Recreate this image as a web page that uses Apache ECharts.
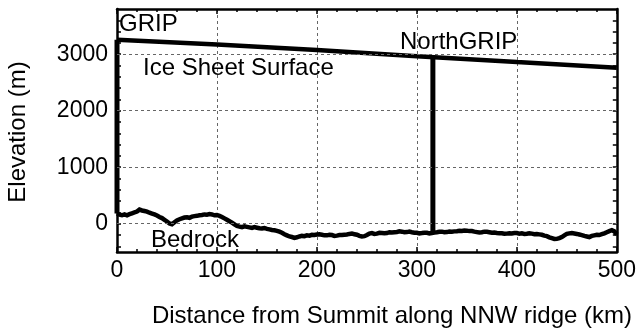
<!DOCTYPE html>
<html>
<head>
<meta charset="utf-8">
<script src="https://cdn.jsdelivr.net/npm/echarts@6/dist/echarts.min.js"></script>
<style>
  html, body { margin: 0; padding: 0; background: #fff; }
  #chart { width: 639px; height: 331px; }
</style>
</head>
<body>
<div id="chart"></div>
<script>
// distance ticks (km) and elevation ticks (m)
const distanceTicks = [0, 100, 200, 300, 400, 500];
const elevationLabels = [0, 1000, 2000, 3000];
const elevationTicks = [-400, -200, 0, 200, 400, 600, 800, 1000, 1200, 1400, 1600, 1800, 2000,
  2200, 2400, 2600, 2800, 3000, 3200, 3400, 3600];

// ice sheet surface along the ridge
const surfaceKm = [0, 100, 200, 300, 400, 500];
const surfaceElev = [3255, 3170, 3075, 2965, 2860, 2760];

// bedrock profile, one reading every 2.5 km from 0 to 500 km
const bedrockStep = 2.5;
const bedrockElev = [
  180, 160, 150, 165, 150, 170, 185, 200, 215, 250, 235, 225, 215, 195, 180, 165, 145, 120, 100, 70,
  40, 5, -10, 25, 60, 80, 95, 110, 115, 105, 125, 135, 140, 150, 155, 165, 160, 170, 165, 150,
  155, 140, 120, 95, 70, 45, 20, -10, -40, -50, -60, -45, -55, -65, -75, -60, -70, -80, -85, -75,
  -90, -100, -110, -115, -125, -140, -160, -185, -205, -225, -235, -250, -240, -225, -215, -220, -205, -210, -195, -200,
  -190, -185, -195, -205, -205, -195, -200, -215, -210, -200, -200, -195, -190, -180, -175, -185, -195, -215, -225, -220,
  -200, -175, -165, -180, -175, -160, -165, -170, -165, -150, -155, -150, -145, -135, -140, -150, -148, -140, -150, -158,
  -160, -170, -165, -158, -160, -170, -165, -155, -150, -142, -140, -150, -148, -138, -140, -135, -132, -125, -128, -120,
  -122, -130, -130, -140, -148, -155, -150, -140, -142, -150, -160, -155, -165, -168, -170, -178, -175, -168, -172, -165,
  -165, -175, -170, -180, -178, -170, -175, -185, -182, -188, -195, -210, -220, -240, -255, -270, -268, -255, -235, -205,
  -180, -170, -165, -172, -180, -190, -200, -215, -225, -235, -215, -205, -195, -200, -185, -170, -150, -130, -115, -135,
  -190
];

// ice cores: position, bedrock and surface elevation
const coreNames = ['GRIP', 'NorthGRIP'];
const coreKm = [0, 316];
const coreBed = [180, -160];
const coreTop = [3255, 2948];

const FONT = "'Liberation Sans', Arial, sans-serif";

const chart = echarts.init(document.getElementById('chart'));

function xAxisCfg(position, showLabel) {
  return {
    type: 'value',
    position: position,
    min: 0,
    max: 500,
    interval: 100,
    axisLine: { show: true, onZero: false, lineStyle: { color: '#000', width: 2.5 } },
    axisTick: { show: true, inside: true, length: 5, lineStyle: { color: '#000', width: 1.5 } },
    minorTick: { show: true, splitNumber: 5, length: 3, lineStyle: { color: '#000', width: 1.5 } },
    axisLabel: {
      show: showLabel,
      margin: 7,
      color: '#000',
      fontSize: 23,
      fontFamily: FONT,
      formatter: (v) => String(v),
    },
    splitLine: showLabel
      ? { show: true, lineStyle: { color: '#666', width: 1, type: [3, 3] } }
      : { show: false },
  };
}

function yAxisCfg(position, showLabel) {
  return {
    type: 'value',
    position: position,
    min: -500,
    max: 3800,
    axisLine: { show: true, onZero: false, lineStyle: { color: '#000', width: 2.5 } },
    axisTick: {
      show: true,
      inside: true,
      length: 4,
      customValues: elevationTicks,
      lineStyle: { color: '#000', width: 1.5 },
    },
    axisLabel: {
      show: showLabel,
      customValues: elevationLabels,
      margin: 9,
      color: '#000',
      fontSize: 23,
      fontFamily: FONT,
      formatter: (v) => String(v),
    },
    splitLine: { show: false },
  };
}

const bedrockData = bedrockElev.map((v, i) => [i * bedrockStep, v]);
const surfaceData = surfaceKm.map((k, i) => [k, surfaceElev[i]]);

const coreSeries = coreKm.map((k, i) => ({
  name: coreNames[i],
  type: 'line',
  clip: false,
  symbol: 'none',
  z: 4,
  lineStyle: { color: '#000', width: 5 },
  data: [[k, coreBed[i]], [k, coreTop[i]]],
}));

chart.setOption({
  animation: false,
  backgroundColor: '#fff',
  grid: { left: 117, right: 22, top: 9, bottom: 79 },
  xAxis: [xAxisCfg('bottom', true), xAxisCfg('top', false)],
  yAxis: [yAxisCfg('left', true), yAxisCfg('right', false)],
  series: [
    {
      name: 'Bedrock',
      type: 'line',
      symbol: 'none',
      z: 3,
      lineStyle: { color: '#000', width: 4.5, join: 'miter' },
      data: bedrockData,
      markLine: {
        silent: true,
        symbol: 'none',
        label: { show: false },
        lineStyle: { color: '#666', width: 1, type: [3, 3] },
        data: elevationLabels.map((v) => ({ yAxis: v })),
      },
    },
    {
      name: 'Ice Sheet Surface',
      type: 'line',
      symbol: 'none',
      z: 3,
      lineStyle: { color: '#000', width: 4.5 },
      data: surfaceData,
    },
    ...coreSeries,
  ],
  graphic: [
    { type: 'text', left: 119, top: 12, z: 10,
      style: { text: 'GRIP', font: `24px ${FONT}`, fill: '#000' } },
    { type: 'text', left: 143, top: 56, z: 10,
      style: { text: 'Ice Sheet Surface', font: `24px ${FONT}`, fill: '#000' } },
    { type: 'text', left: 400, top: 30, z: 10,
      style: { text: 'NorthGRIP', font: `24px ${FONT}`, fill: '#000' } },
    { type: 'text', left: 151, top: 228, z: 10,
      style: { text: 'Bedrock', font: `24px ${FONT}`, fill: '#000' } },
    { type: 'text', x: 18, y: 132, rotation: Math.PI / 2, z: 10,
      style: { text: 'Elevation (m)', font: `24px ${FONT}`, fill: '#000', align: 'center', verticalAlign: 'middle' } },
    { type: 'text', x: 392, y: 316, z: 10,
      style: { text: 'Distance from Summit along NNW ridge (km)', font: `24px ${FONT}`, fill: '#000', align: 'center', verticalAlign: 'middle' } },
  ],
});
</script>
</body>
</html>
